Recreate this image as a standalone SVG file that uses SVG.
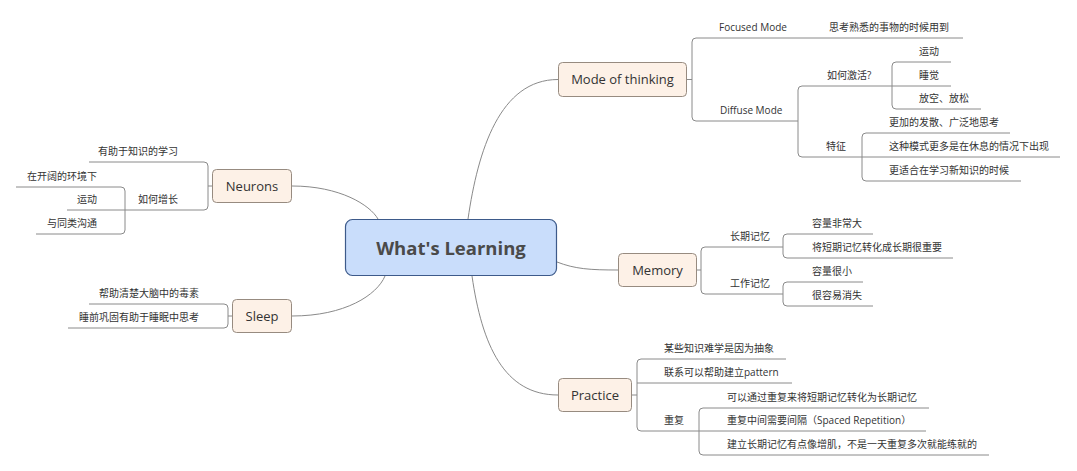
<svg xmlns="http://www.w3.org/2000/svg" width="1077" height="471" viewBox="0 0 1077 471">
<style>
  .bg{fill:#ffffff}
  .ln{fill:none;stroke:#8a8a8a;stroke-width:1}
  .main{fill:#fdf1e7;stroke:#978b80;stroke-width:1}
  .central{fill:#c9ddfb;stroke:#3d5a8a;stroke-width:1.2}
  .t{font-family:"Open Sans","Noto Sans CJK SC",sans-serif;font-size:10px;fill:#333333}
  .tm{font-family:"Open Sans","Noto Sans CJK SC",sans-serif;font-size:13px;fill:#333333;text-anchor:middle}
  .tc{font-family:"Open Sans","Noto Sans CJK SC",sans-serif;font-size:18.5px;font-weight:bold;fill:#4a4a4a;text-anchor:middle}
  .r{text-anchor:end}
</style>
<rect class="bg" x="0" y="0" width="1077" height="471"/>
<g id="connectors">
  <!-- central to main topics -->
  <path class="ln" d="M468 219 C478 150 500 79.5 558 79.5"/>
  <path class="ln" d="M557 262 C575 269 590 270 618 270"/>
  <path class="ln" d="M472 276 C482 345 504 395 558 395"/>
  <path class="ln" d="M378 219 C370 205 340 186 292 186"/>
  <path class="ln" d="M385 276 C377 295 345 316 292 316"/>
  <!-- Mode of thinking -->
  <path class="ln" d="M687 79.5 H692"/>
  <path class="ln" d="M963 38 H696 Q692 38 692 42 V117 Q692 121 696 121 H798"/>
  <path class="ln" d="M892 86 H802 Q798 86 798 90 V153 Q798 157 802 157 H1060"/>
  <path class="ln" d="M951 62 H896 Q892 62 892 66 V105 Q892 109 896 109 H981"/>
  <path class="ln" d="M892 86 H951"/>
  <path class="ln" d="M1010 133 H866 Q862 133 862 137 V177 Q862 181 866 181 H1021"/>
  <!-- Memory -->
  <path class="ln" d="M697 270 H701"/>
  <path class="ln" d="M783 247 H705 Q701 247 701 251 V290 Q701 294 705 294 H783"/>
  <path class="ln" d="M873 234 H787 Q783 234 783 238 V254 Q783 258 787 258 H953"/>
  <path class="ln" d="M863 282 H787 Q783 282 783 286 V302 Q783 306 787 306 H873"/>
  <!-- Practice -->
  <path class="ln" d="M632 395 H637"/>
  <path class="ln" d="M786 359 H641 Q637 359 637 363 V427 Q637 431 641 431 H926"/>
  <path class="ln" d="M637 383 H792"/>
  <path class="ln" d="M929 408 H703 Q699 408 699 412 V451 Q699 455 703 455 H989"/>
  <!-- Neurons -->
  <path class="ln" d="M212 186 H208"/>
  <path class="ln" d="M89 162 H204 Q208 162 208 166 V206 Q208 210 204 210 H67"/>
  <path class="ln" d="M16 187 H121 Q125 187 125 191 V230 Q125 234 121 234 H36"/>
  <!-- Sleep -->
  <path class="ln" d="M232 316 H228"/>
  <path class="ln" d="M89 304 H224 Q228 304 228 308 V324 Q228 328 224 328 H68"/>
</g>
<g id="central">
  <rect class="central" x="345.5" y="219.5" width="211" height="56" rx="7"/>
  <text class="tc" x="451" y="255">What's Learning</text>
</g>
<g id="mode-of-thinking">
  <rect class="main" x="558.5" y="62.5" width="128" height="34" rx="4"/>
  <text class="tm" x="622.5" y="84">Mode of thinking</text>
</g>
<g id="focused-mode"><text class="t" x="719" y="31">Focused Mode</text></g>
<g id="focused-1"><text class="t" x="829" y="31">思考熟悉的事物的时候用到</text></g>
<g id="diffuse-mode"><text class="t" x="720" y="114">Diffuse Mode</text></g>
<g id="how-activate"><text class="t" x="827" y="79">如何激活?</text></g>
<g id="act-1"><text class="t" x="919" y="55">运动</text></g>
<g id="act-2"><text class="t" x="919" y="79">睡觉</text></g>
<g id="act-3"><text class="t" x="919" y="102">放空、放松</text></g>
<g id="feature"><text class="t" x="826" y="150">特征</text></g>
<g id="feat-1"><text class="t" x="889" y="126">更加的发散、广泛地思考</text></g>
<g id="feat-2"><text class="t" x="889" y="150">这种模式更多是在休息的情况下出现</text></g>
<g id="feat-3"><text class="t" x="889" y="174">更适合在学习新知识的时候</text></g>
<g id="memory">
  <rect class="main" x="618.5" y="253.5" width="78" height="33" rx="4"/>
  <text class="tm" x="657.5" y="275">Memory</text>
</g>
<g id="long-term"><text class="t" x="730" y="240">长期记忆</text></g>
<g id="lt-1"><text class="t" x="812" y="227">容量非常大</text></g>
<g id="lt-2"><text class="t" x="812" y="251">将短期记忆转化成长期很重要</text></g>
<g id="working"><text class="t" x="730" y="287">工作记忆</text></g>
<g id="wm-1"><text class="t" x="812" y="275">容量很小</text></g>
<g id="wm-2"><text class="t" x="812" y="299">很容易消失</text></g>
<g id="practice">
  <rect class="main" x="558.5" y="378.5" width="73" height="33" rx="4"/>
  <text class="tm" x="595" y="400">Practice</text>
</g>
<g id="pr-1"><text class="t" x="664" y="352">某些知识难学是因为抽象</text></g>
<g id="pr-2"><text class="t" x="664" y="376">联系可以帮助建立pattern</text></g>
<g id="pr-3"><text class="t" x="664" y="424">重复</text></g>
<g id="rep-1"><text class="t" x="727" y="401">可以通过重复来将短期记忆转化为长期记忆</text></g>
<g id="rep-2"><text class="t" x="727" y="424">重复中间需要间隔（Spaced Repetition）</text></g>
<g id="rep-3"><text class="t" x="727" y="448">建立长期记忆有点像增肌，不是一天重复多次就能练就的</text></g>
<g id="neurons">
  <rect class="main" x="212.5" y="169.5" width="79" height="33" rx="4"/>
  <text class="tm" x="252" y="191">Neurons</text>
</g>
<g id="ne-1"><text class="t r" x="178" y="155">有助于知识的学习</text></g>
<g id="ne-2"><text class="t r" x="178" y="203">如何增长</text></g>
<g id="grow-1"><text class="t r" x="97" y="180">在开阔的环境下</text></g>
<g id="grow-2"><text class="t r" x="97" y="203">运动</text></g>
<g id="grow-3"><text class="t r" x="97" y="227">与同类沟通</text></g>
<g id="sleep">
  <rect class="main" x="232.5" y="299.5" width="59" height="33" rx="4"/>
  <text class="tm" x="262" y="321">Sleep</text>
</g>
<g id="sl-1"><text class="t r" x="199" y="297">帮助清楚大脑中的毒素</text></g>
<g id="sl-2"><text class="t r" x="199" y="321">睡前巩固有助于睡眠中思考</text></g>
</svg>
